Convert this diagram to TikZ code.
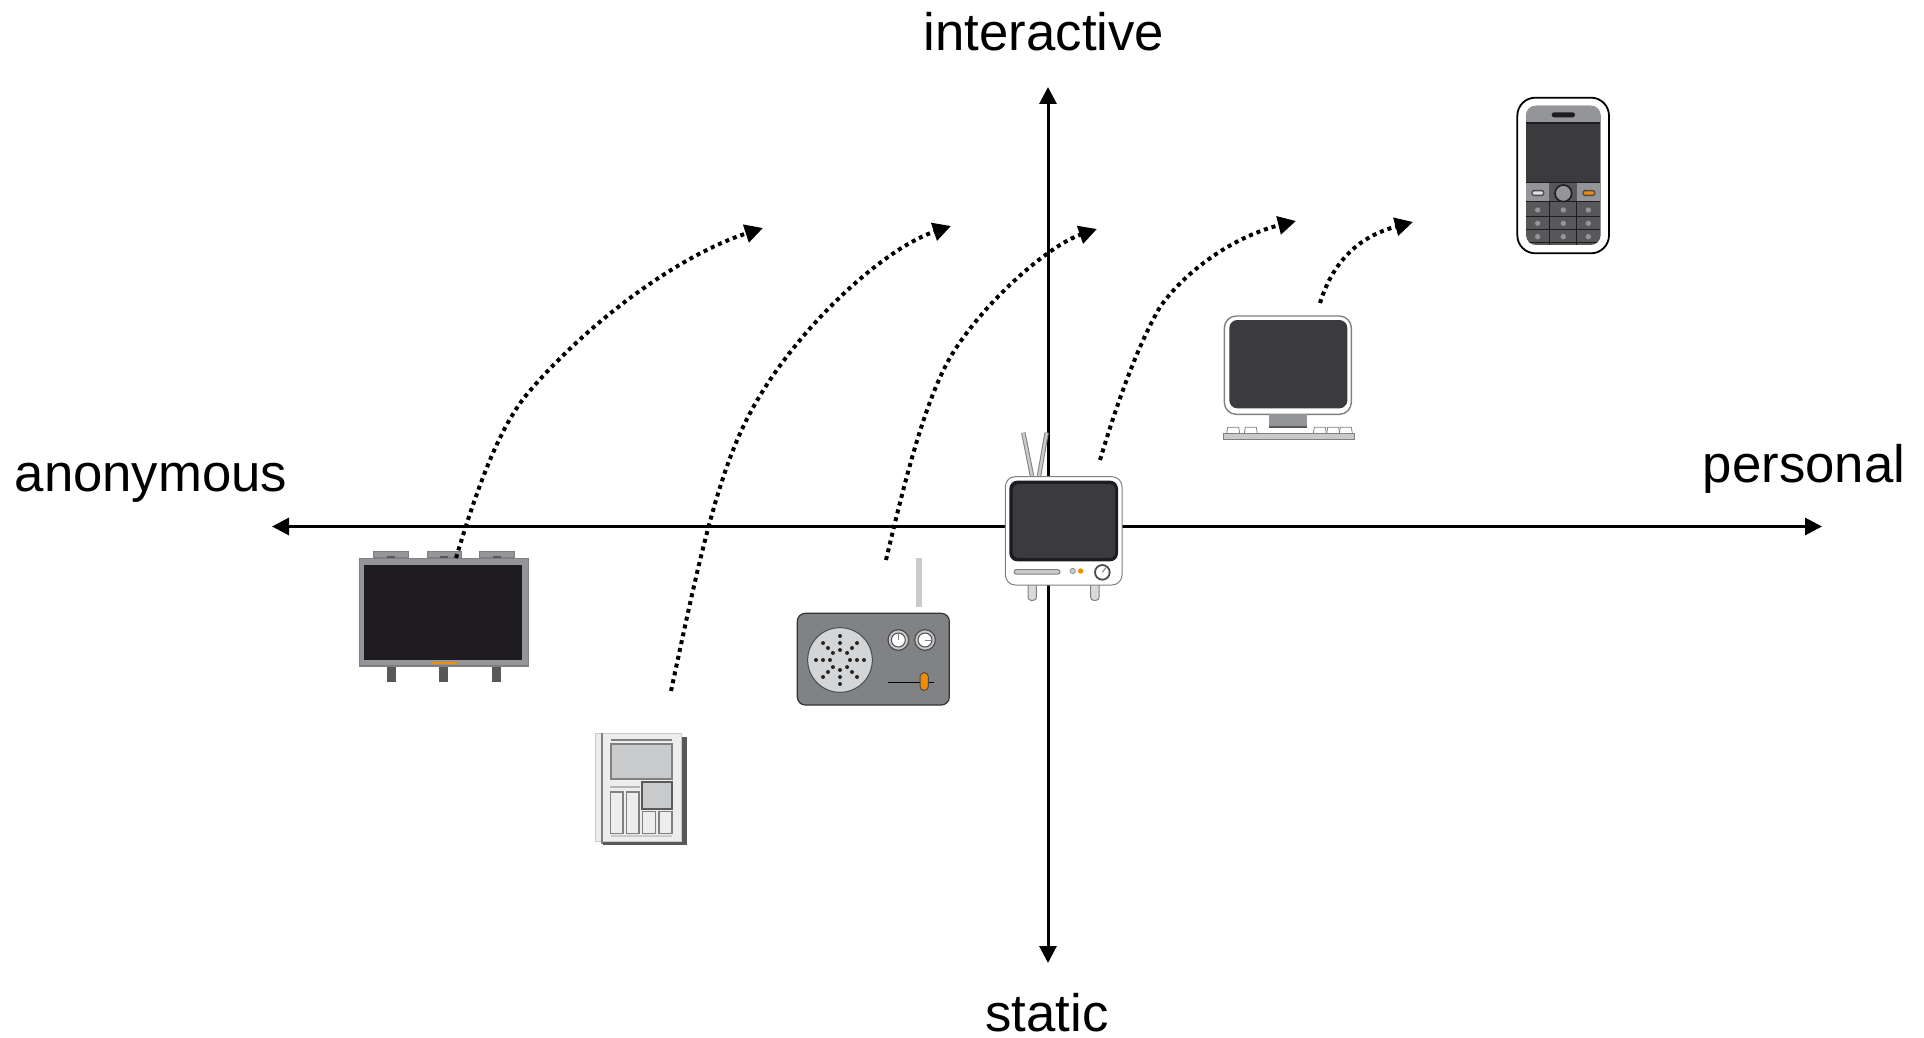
\documentclass[tikz,border=0pt]{standalone}
\usepackage{fontspec}
\setmainfont{Liberation Sans}
\usetikzlibrary{arrows.meta}
\definecolor{screendark}{HTML}{3B3B3D}
\definecolor{nearblack}{HTML}{1E1C20}
\definecolor{midgray}{HTML}{808285}
\definecolor{framegray}{HTML}{939598}
\definecolor{lightgray}{HTML}{C9CACC}
\definecolor{palegray}{HTML}{EDEDED}
\definecolor{legdark}{HTML}{58585A}
\definecolor{amber}{HTML}{F08C00}
\tikzset{
  axisline/.style={line width=1.5pt,-{Stealth[length=8.5pt,width=8.5pt,inset=0pt]}},
  pathdots/.style={line width=2pt,dash pattern=on 2pt off 2pt,-{Stealth[length=9pt,width=9pt,inset=0pt]}},
  axislabel/.style={font=\fontsize{26.35}{30}\selectfont,anchor=base,inner sep=0pt,text=black},
  icon/.style={scale=1/3},
  column/.style={draw=gray,line width=.8pt,fill=palegray},
}
\begin{document}
\begin{tikzpicture}[x=0.5pt,y=-0.5pt]
\useasboundingbox (0,0) rectangle (1924,1038);
\fill[white] (0,0) rectangle (1924,1038);

% axes
\coordinate (hub) at (1048,526.5);
\coordinate (west) at (272,526.5);
\coordinate (east) at (1822,526.5);
\coordinate (north) at (1048,87);
\coordinate (south) at (1048,963);
\draw[axisline] (hub) -- (west);
\draw[axisline] (hub) -- (east);
\draw[axisline] (hub) -- (north);
\draw[axisline] (hub) -- (south);

\node[axislabel] (linteractive) at (1044,51) {interactive};
\node[axislabel] (lstatic) at (1047,1031) {static};
\node[axislabel] (lanonymous) at (151,491) {anonymous};
\node[axislabel] (lpersonal) at (1804,482) {personal};

% billboard
\begin{scope}[shift={(340,530)},icon]
  \foreach \a in {101,261,419}{
    \fill[framegray,draw=gray] (\a,64) rectangle ++(103,17);
    \fill[legdark] (\a+40,77) rectangle ++(24,9);
  }
  \foreach \a in {141,297,457}{
    \fill[legdark] (\a,405) rectangle ++(27,50);
  }
  \fill[framegray] (58,85) rectangle (565,408);
  \draw[gray,line width=.6pt] (58,85) rectangle (565,408);
  \fill[nearblack] (73,104) rectangle (547,390);
  \fill[amber] (272,395) rectangle (350,403);
\end{scope}

% newspaper
\begin{scope}[shift={(580,720)},icon]
  \fill[legdark] (70,50) rectangle (320,375);
  \fill[palegray,draw=lightgray,line width=.4pt] (45,40) rectangle (303,365);
  \draw[gray,line width=1pt] (65,40) -- (65,372);
  \fill[gray] (92,58) rectangle (277,64);
  \fill[lightgray,draw=gray,line width=1pt] (93,71) rectangle (276,178);
  \fill[lightgray!70!gray] (90,197) rectangle (180,204);
  \draw[column] (91,216) rectangle (129,341);
  \draw[column] (139,216) rectangle (177,341);
  \fill[lightgray,draw=gray!70!black,line width=1pt] (187,187) rectangle (276,266);
  \draw[column] (187,275) rectangle (227,341);
  \draw[column] (237,275) rectangle (276,341);
  \fill[lightgray] (92,346) rectangle (276,352);
\end{scope}

% radio
\begin{scope}[shift={(780,550)},icon]
  \fill[lightgray] (408,25) rectangle (425,172);
  \fill[midgray,draw=black!80,line width=.6pt,rounded corners=4pt] (52,190) rectangle (508,465);
  \fill[lightgray!80!white,draw=black!70,line width=.5pt] (180,330) circle (97);
  \foreach \t in {0,45,...,315}
    \foreach \r in {30,51,72}
      \fill[black!85] (180,330) ++(\t:\r) circle (6);
  \foreach \a in {355,435}{
    \fill[lightgray,draw=black!70,line width=.6pt] (\a,270) circle (31);
    \fill[white,draw=black!70,line width=.5pt] (\a,270) circle (21);
  }
  \draw[gray,line width=.5pt] (355,270) -- (355,250);
  \draw[gray,line width=.5pt] (435,270) -- (456,270);
  \draw[black,line width=.7pt] (325,398) -- (462,398);
  \fill[amber,draw=black!70,line width=.5pt,rounded corners=2pt] (420,368) rectangle (445,421);
\end{scope}

% television
\begin{scope}[shift={(990,420)},icon]
  \draw[gray,line width=2.2pt] (100,38) -- (126,168);
  \draw[lightgray,line width=1.2pt] (100,38) -- (126,168);
  \draw[gray,line width=2.2pt] (170,38) -- (147,168);
  \draw[lightgray,line width=1.2pt] (170,38) -- (147,168);
  \foreach \a in {114,302}{
    \fill[lightgray!70!white,draw=gray,line width=.5pt,rounded corners=1.5pt] (\a,480) rectangle ++(25,61);
  }
  \fill[white,draw=gray,line width=.5pt,rounded corners=5pt] (46,170) rectangle (396,495);
  \fill[nearblack,rounded corners=4pt] (58,182) rectangle (384,424);
  \fill[screendark,rounded corners=3pt] (68,192) rectangle (376,414);
  \fill[lightgray,draw=gray,line width=.5pt,rounded corners=1pt] (72,449) rectangle (210,462);
  \fill[lightgray,draw=gray,line width=.3pt] (248,453) circle (8);
  \fill[amber] (272,453) circle (8);
  \fill[white,draw=black!70,line width=.9pt] (337,457) circle (22);
  \draw[gray,line width=.5pt] (337,457) -- (350,440);
\end{scope}

% desktop computer
\begin{scope}[shift={(1210,300)},icon]
  \fill[white,draw=gray,line width=.7pt,rounded corners=6pt] (43,48) rectangle (424,343);
  \fill[screendark,rounded corners=4pt] (58,60) rectangle (412,325);
  \fill[framegray] (178,342) rectangle (290,378);
  \fill[legdark] (178,378) rectangle (290,383);
  \foreach \a in {50,103,310,350,388}{
    \draw[gray,fill=white,line width=.4pt] (\a,400) -- (\a+3,382) -- (\a+36,382) -- (\a+39,400);
  }
  \fill[lightgray,draw=gray,line width=.5pt] (40,400) rectangle (434,420);
\end{scope}

% phone
\begin{scope}[shift={(1500,85)},icon]
  \fill[white,draw=black,line width=.9pt,rounded corners=9pt] (52,38) rectangle (327,505);
  \fill[legdark,rounded corners=5pt] (78,62) rectangle (302,480);
  \begin{scope}
    \clip[rounded corners=5pt] (78,62) rectangle (302,480);
    \fill[framegray] (78,62) rectangle (302,112);
    \fill[nearblack] (78,112) rectangle (302,116);
    \fill[screendark] (78,116) rectangle (302,291);
    \fill[framegray] (78,294) rectangle (147,350);
    \fill[framegray] (232,294) rectangle (302,350);
    \draw[nearblack,line width=.5pt] (78,292) -- (302,292);
    \draw[nearblack,line width=.5pt] (78,351) -- (302,351);
    \draw[nearblack,line width=.5pt] (78,394) -- (302,394);
    \draw[nearblack,line width=.5pt] (78,435) -- (302,435);
    \draw[nearblack,line width=.5pt] (78,474) -- (302,474);
    \draw[nearblack,line width=.5pt] (149,351) -- (149,480);
    \draw[nearblack,line width=.5pt] (230,351) -- (230,480);
  \end{scope}
  \fill[nearblack,rounded corners=1.2pt] (155,82) rectangle (225,97);
  \fill[framegray,draw=nearblack,line width=.8pt] (190,325) circle (25);
  \fill[lightgray!60!white,draw=black!70,line width=.7pt,rounded corners=.7pt] (96,317) rectangle (131,331);
  \fill[amber,draw=black!70,line width=.7pt,rounded corners=.7pt] (249,317) rectangle (284,331);
  \foreach \a in {113,190,265}
    \foreach \b in {375,415,455}
      \fill[framegray] (\a,\b) circle (8);
\end{scope}

% migration paths
\coordinate (b0) at (456,558);  \coordinate (b1) at (763,228);
\coordinate (n0) at (671,691);  \coordinate (n1) at (951,226);
\coordinate (r0) at (886,560);  \coordinate (r1) at (1097,229);
\coordinate (t0) at (1100,460); \coordinate (t1) at (1296,221);
\coordinate (d0) at (1320,303); \coordinate (d1) at (1413,222);
\draw[pathdots] (b0) .. controls (478,485) and (500,426) .. (528,393) .. controls (590,320) and (680,255) .. (b1);
\draw[pathdots] (n0) .. controls (695,580) and (715,480) .. (748,417) .. controls (790,335) and (880,250) .. (n1);
\draw[pathdots] (r0) .. controls (905,480) and (925,400) .. (951,356) .. controls (985,300) and (1050,245) .. (r1);
\draw[pathdots] (t0) .. controls (1118,400) and (1138,345) .. (1160,307) .. controls (1190,265) and (1240,235) .. (t1);
\draw[pathdots] (d0) .. controls (1335,255) and (1365,235) .. (d1);
\end{tikzpicture}
\end{document}
